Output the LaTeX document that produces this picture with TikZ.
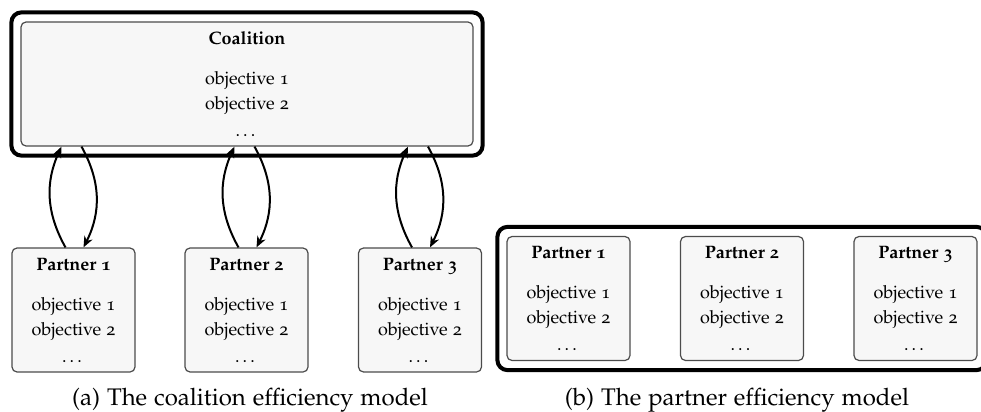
\documentclass[tikz,border=0pt]{standalone}
\usepackage[T1]{fontenc}
\usepackage[osf]{mathpazo}
\usetikzlibrary{arrows.meta,calc,fit}

\tikzset{
  unitbox/.style={draw=black!70, line width=0.6pt, fill=black!3,
    rounded corners=2.5pt, minimum height=62pt, minimum width=61.5pt,
    inner sep=0pt, align=center, font=\fontsize{9}{12.5}\selectfont},
  frame/.style={draw=black, line width=2pt, rounded corners=5pt, inner sep=4.5pt},
  link/.style={line width=1pt, -{Stealth[length=5.5pt,width=4.5pt]}},
  caption/.style={font=\fontsize{12}{14}\selectfont, anchor=base},
}
\newcommand{\boxtext}[1]{\textbf{#1}\\[7.5pt] objective 1\\ objective 2\\[1pt] \dots}

\begin{document}
\begin{tikzpicture}[x=0.5pt, y=-0.5pt]
  \useasboundingbox (0,0) rectangle (981,412);

  % (a) the coalition efficiency model
  \node[unitbox, minimum width=226pt] (co) at (247,84) {\boxtext{Coalition}};
  \node[frame, fit=(co)] (fa) {};

  \node[unitbox] (p1) at (73.5,310) {\boxtext{Partner 1}};
  \node[unitbox] (p2) at (246.5,310) {\boxtext{Partner 2}};
  \node[unitbox] (p3) at (420,310) {\boxtext{Partner 3}};

  \foreach \p in {p1,p2,p3}{
    \draw[link] ($(\p.north)+(-8,0)$) to[bend left=27] ($(\p.north |- co.south)+(-12,0)$);
    \draw[link] ($(\p.north |- co.south)+(8,0)$) to[bend left=28] ($(\p.north)+(10,0)$);
  }

  \node[caption] (ca) at (250,405) {(a) The coalition efficiency model};

  % (b) the partner efficiency model
  \node[unitbox] (q1) at (568.5,298.5) {\boxtext{Partner 1}};
  \node[unitbox] (q2) at (742,298.5) {\boxtext{Partner 2}};
  \node[unitbox] (q3) at (915.5,298.5) {\boxtext{Partner 3}};
  \node[frame, fit=(q1)(q3)] (fb) {};

  \node[caption] (cb) at (737,405) {(b) The partner efficiency model};
\end{tikzpicture}
\end{document}
